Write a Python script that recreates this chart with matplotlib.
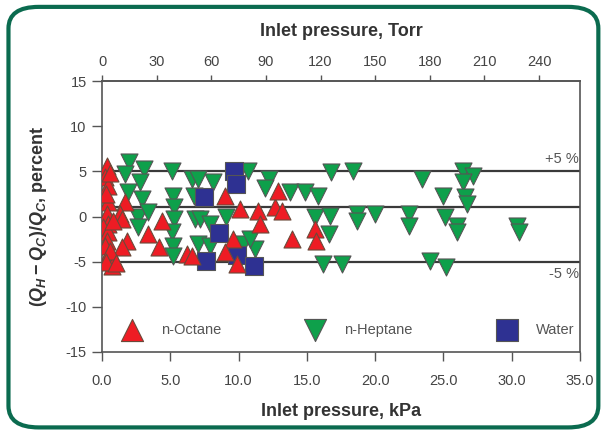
import matplotlib
matplotlib.use('Agg')
import matplotlib.pyplot as plt
from matplotlib.patches import FancyBboxPatch
import numpy as np

plt.rcParams['font.family'] = ['Liberation Sans', 'DejaVu Sans']
plt.rcParams['axes.unicode_minus'] = False
plt.rcParams['mathtext.fontset'] = 'custom'
plt.rcParams['mathtext.rm'] = 'Liberation Sans:bold'
plt.rcParams['mathtext.it'] = 'Liberation Sans:italic:bold'
plt.rcParams['mathtext.bf'] = 'Liberation Sans:bold'

# inlet pressure (kPa) and deviation (percent)
octane_p = [0.35, 0.25, 0.45, 0.45, 1.7, 0.35, 1.3, 1.5, 0.45, 0.1, 0.45, 0.35, 1.8,
            0.2, 1.5, 0.45, 0.7, 0.6, 0.3, 0.6, 0.3, 1.0, 0.8,
            3.4, 4.4, 4.2, 6.2, 6.6, 9.0, 10.1, 11.4, 12.7, 12.9, 11.6, 9.6, 9.0,
            9.9, 13.9, 13.2, 15.6, 15.7]
octane_d = [5.6, 4.4, 3.4, 1.6, 1.6, 0.3, 0.3, -0.3, -0.8, -1.2, -1.7, -2.7, -2.7,
            -3.3, -3.4, -4.4, -5.5, 4.8, 2.5, -3.8, -5.0, -5.2, -0.5,
            -1.9, -0.5, -3.4, -4.2, -4.4, 2.3, 0.8, 0.6, 1.1, 2.8, -0.8, -2.5, -3.9,
            -5.3, -2.5, 0.6, -1.4, -2.7]

heptane_p = [2.0, 3.1, 1.7, 2.8, 5.1, 2.9, 1.9, 5.2, 5.3, 2.6, 3.4, 2.6, 5.3, 5.1,
             5.2, 5.2, 6.6, 6.8, 7.0, 8.1, 6.7, 10.7, 12.2, 11.9, 13.8, 7.2, 7.9,
             9.1, 7.0, 7.9, 10.3, 11.2, 10.8,
             16.8, 18.4, 23.4, 26.4, 27.2, 26.4, 25.0, 26.6, 26.7, 14.9, 15.8, 15.6,
             16.7, 16.6, 18.7, 18.7, 20.0, 22.5, 22.5, 25.1, 26.0, 26.0, 30.4, 30.5,
             16.2, 17.6, 24.0, 25.2]
heptane_d = [6.0, 5.3, 4.7, 3.8, 5.0, 1.9, 2.7, 2.3, 1.0, 0.0, 0.5, -1.2, -0.3, -1.7,
             -3.3, -4.4, 4.1, -0.3, 4.1, 3.8, 2.3, 5.0, 4.1, 3.2, 2.7, -0.3, -0.8,
             0.0, -3.0, -3.3, -3.0, -3.6, -2.5,
             4.9, 5.0, 4.1, 5.0, 4.5, 3.8, 2.3, 2.2, 1.4, 2.7, 2.3, 0.0,
             0.1, -1.9, 0.3, -0.5, 0.3, 0.3, -1.0, 0.0, -1.0, -1.7, -1.0, -1.7,
             -5.3, -5.3, -4.9, -5.6]

water_p = [7.5, 9.7, 9.8, 8.6, 7.6, 9.9, 11.1]
water_d = [2.2, 5.0, 3.6, -1.8, -4.9, -4.3, -5.5]

ref_lines = [5, 1, -5]
kpa_ticks = np.arange(0, 35.1, 5)
torr_ticks = np.arange(0, 241, 30)
KPA_TO_TORR = 7.50062

fig = plt.figure(figsize=(6.05, 4.30), dpi=100)
ax = fig.add_axes([0.1686, 0.1814, 0.7901, 0.6302])

frame = FancyBboxPatch((0.014, 0.006), 0.975, 0.978, boxstyle='round,pad=0,rounding_size=0.05',
                       transform=fig.transFigure, fill=False, edgecolor='#0b6b4f',
                       linewidth=3, zorder=0)
fig.patches.append(frame)

for yl in ref_lines:
    ax.axhline(yl, color='#3a3a3a', lw=1.6, zorder=1)

ax.scatter(heptane_p, heptane_d, marker='v', s=150, c='#0ea04b', edgecolors='#555555',
           linewidths=0.8, zorder=3, label='n-Heptane')
ax.scatter(water_p, water_d, marker='s', s=160, c='#2e3192', edgecolors='#555555',
           linewidths=0.8, zorder=3, label='Water')
ax.scatter(octane_p, octane_d, marker='^', s=150, c='#ee1c24', edgecolors='#6b4a3a',
           linewidths=0.8, zorder=4, label='n-Octane')

ax.text(34.9, 5.6, '+5 %', ha='right', va='bottom', fontsize=10.5, color='#555555')
ax.text(34.9, -5.6, '-5 %', ha='right', va='top', fontsize=10.5, color='#555555')

ax.set_xlim(0, 35)
ax.set_ylim(-15, 15)
ax.set_xticks(kpa_ticks)
ax.set_xticklabels(['{:.1f}'.format(t) for t in kpa_ticks])
ax.set_yticks(np.arange(-15, 16, 5))
ax.set_xlabel('Inlet pressure, kPa', fontsize=13, fontweight='bold', color='#333333', labelpad=11)
ax.set_ylabel(r'$(Q_H - Q_C)/Q_C$, percent', fontsize=13, fontweight='bold', color='#333333',
              labelpad=12)

for sp in ax.spines.values():
    sp.set_color('#555555')
    sp.set_linewidth(1.2)
ax.tick_params(axis='x', direction='out', length=6.5, width=1, colors='#555555',
               labelcolor='#444444', labelsize=10.5, pad=9)
ax.tick_params(axis='y', direction='out', length=7, width=1, colors='#555555',
               labelcolor='#444444', labelsize=10.5, pad=4)

top = ax.secondary_xaxis('top', functions=(lambda x: x * KPA_TO_TORR, lambda t: t / KPA_TO_TORR))
top.set_xticks(torr_ticks)
top.spines['top'].set_color('#555555')
top.spines['top'].set_linewidth(1.2)
top.tick_params(direction='out', length=4, width=1, colors='#555555', labelcolor='#444444',
                labelsize=10.5, pad=5)
top.set_xlabel('Inlet pressure, Torr', fontsize=13, fontweight='bold', color='#333333', labelpad=13)

handles, labels = ax.get_legend_handles_labels()
order = [2, 0, 1]
leg = ax.legend([handles[i] for i in order], [labels[i] for i in order], ncol=3,
                loc='center', bbox_to_anchor=(0.02, 0.01, 0.98, 0.14), mode='expand',
                frameon=False, fontsize=10.5, markerscale=1.3, handletextpad=1.0,
                borderaxespad=0)
for t in leg.get_texts():
    t.set_color('#555555')

fig.savefig('out.png', dpi=100)
